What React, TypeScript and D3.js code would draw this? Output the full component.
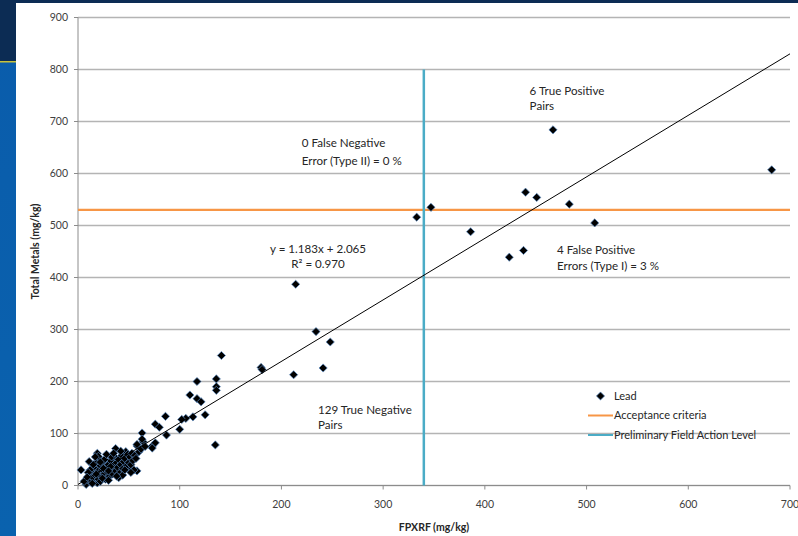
import React from 'react';
import * as d3 from 'd3';

// Lead pairs: [FPXRF, Total Metals] (mg/kg)
const leadPoints: [number, number][] = [
  // right of the field action level
  [333, 516], [347, 535], [386, 488], [424, 439], [438, 452], [440, 564],
  [451, 554], [467, 684], [483, 541], [508, 505], [682, 607],
  // mid range
  [214, 387], [234, 296], [248, 276], [141, 250], [180, 227], [181, 223],
  [212, 213], [241, 226], [117, 200], [136, 205], [136, 190], [136, 183],
  [110, 174], [117, 167], [121, 161], [125, 136], [113, 132], [106, 129],
  [102, 127], [100, 108], [86, 133], [76, 118], [80, 112], [87, 97],
  [63, 101], [135, 78], [64, 84], [58, 76], [73, 76], [76, 82], [73, 72],
  [63, 89], [58, 79],
  // low cluster
  [3, 30], [11, 46], [19, 62], [37, 71], [47, 65], [19, 5], [50, 31], [58, 28],
  [48, 49], [8, 2], [10, 10], [12, 18], [13, 8], [14, 25], [15, 14], [16, 35],
  [17, 20], [18, 44], [20, 12], [20, 28], [21, 52], [22, 8], [22, 38], [23, 18],
  [24, 30], [25, 45], [26, 22], [27, 12], [28, 34], [29, 26], [30, 40], [31, 18],
  [32, 48], [33, 30], [34, 22], [35, 38], [36, 55], [37, 28], [38, 44], [39, 35],
  [40, 50], [41, 24], [42, 40], [43, 58], [44, 32], [45, 46], [46, 52], [48, 38],
  [49, 60], [50, 44], [51, 55], [52, 40], [53, 62], [54, 48], [55, 30], [56, 58],
  [57, 52], [60, 65], [62, 70], [66, 75], [12, 30], [15, 40], [18, 22], [24, 14],
  [26, 50], [30, 10], [33, 55], [40, 15], [44, 20], [10, 25], [6, 8], [9, 16],
  [14, 4], [20, 56], [28, 60], [17, 55], [35, 62], [42, 66], [46, 30], [52, 25],
  [25, 33], [32, 36], [38, 18], [30, 28], [22, 45],
];

const trendSlope = 1.183;
const trendIntercept = 2.065;
const acceptanceCriteria = 530;
const fieldActionLevel = 340;
const fieldActionTop = 800;

const xTicks = [0, 100, 200, 300, 400, 500, 600, 700];
const yTicks = [0, 100, 200, 300, 400, 500, 600, 700, 800, 900];

// [text, x, y, anchor] in data units
const notes: [string, number, number, string][] = [
  ['0 False Negative', 220, 651, 'start'],
  ['Error (Type II) = 0 %', 220, 617, 'start'],
  ['y = 1.183x + 2.065', 236, 448, 'middle'],
  ['R² = 0.970', 236, 418, 'middle'],
  ['6 True Positive', 444, 751, 'start'],
  ['Pairs', 444, 722, 'start'],
  ['4 False Positive', 471, 445, 'start'],
  ['Errors (Type I) = 3 %', 471, 414, 'start'],
  ['129 True Negative', 236, 137, 'start'],
  ['Pairs', 236, 108, 'start'],
];

const legendItems = ['Lead', 'Acceptance criteria', 'Preliminary Field Action Level'];

const W = 798, H = 536;
const margin = { top: 17.5, right: 8, bottom: 50.5, left: 78 };
const font = 'Lato, "Open Sans", sans-serif';
const gridColor = '#b4b4b4';
const orange = '#f79646';
const blue = '#4bacc6';

const diamond = (cx: number, cy: number, r: number) =>
  `M${cx},${cy - r}L${cx + r},${cy}L${cx},${cy + r}L${cx - r},${cy}Z`;

export default function App() {
  const x = d3.scaleLinear().domain([0, 700]).range([margin.left, W - margin.right]);
  const y = d3.scaleLinear().domain([0, 900]).range([H - margin.bottom, margin.top]);
  const trend = d3.line<number>().x(d => x(d)).y(d => y(trendSlope * d + trendIntercept));

  const lx = 600.5, ly = 396;

  return (
    <svg width={W} height={H} style={{ position: 'absolute', left: 0, top: 0 }} fontFamily={font}>
      {/* slide background */}
      <defs>
        <linearGradient id="band" x1="0" y1="0" x2="0" y2="1">
          <stop offset="0" stopColor="#0a5cab" />
          <stop offset="1" stopColor="#0a62ae" />
        </linearGradient>
      </defs>
      <rect x={0} y={0} width={W} height={H} fill="url(#band)" />
      <rect x={0} y={0} width={W} height={61} fill="#0c2c54" />
      <rect x={0} y={61} width={16} height={1.5} fill="#c9c23a" />
      <rect x={16} y={3} width={W - 16} height={H - 3} fill="#ffffff" />

      {/* gridlines */}
      {yTicks.map(t => (
        <line key={t} x1={x(0)} x2={x(700)} y1={y(t)} y2={y(t)} stroke={gridColor} strokeWidth={1.4} />
      ))}
      {/* y axis */}
      <line x1={x(0)} x2={x(0)} y1={y(0)} y2={y(900)} stroke="#8c8c8c" strokeWidth={1} />
      {yTicks.map(t => (
        <g key={t}>
          <line x1={x(0) - 4} x2={x(0)} y1={y(t)} y2={y(t)} stroke="#8c8c8c" />
          <text x={x(0) - 10} y={y(t)} dy="0.35em" textAnchor="end" fontSize={10.5} fill="#404040">{t}</text>
        </g>
      ))}
      {/* x axis */}
      <line x1={x(0)} x2={x(700)} y1={y(0)} y2={y(0)} stroke="#8c8c8c" strokeWidth={1} />
      {xTicks.map(t => (
        <g key={t}>
          <line x1={x(t)} x2={x(t)} y1={y(0)} y2={y(0) + 4} stroke="#8c8c8c" />
          <text x={x(t)} y={y(0) + 19} dy="0.35em" textAnchor="middle" fontSize={10.5} fill="#404040">{t}</text>
        </g>
      ))}

      <text transform={`translate(35,${(y(0) + y(900)) / 2}) rotate(-90)`} textAnchor="middle" dy="0.35em"
        fontSize={10.5} fontWeight="bold" fill="#262626">Total Metals (mg/kg)</text>
      <text x={(x(0) + x(700)) / 2} y={527} textAnchor="middle" dy="0.35em"
        fontSize={10.5} fontWeight="bold" fill="#262626">FPXRF (mg/kg)</text>

      {/* reference lines */}
      <line x1={x(0)} x2={x(700)} y1={y(acceptanceCriteria)} y2={y(acceptanceCriteria)} stroke={orange} strokeWidth={2.2} />
      <line x1={x(fieldActionLevel)} x2={x(fieldActionLevel)} y1={y(0)} y2={y(fieldActionTop)} stroke={blue} strokeWidth={2.5} />

      {/* points */}
      {leadPoints.map(([a, b], i) => (
        <path key={i} d={diamond(x(a), y(b), 4.1)} fill="#000" stroke="#5b8cc4" strokeWidth={0.7} />
      ))}

      {/* trendline */}
      <path d={trend([0, 700]) || ''} fill="none" stroke="#000" strokeWidth={1} />

      {/* annotations */}
      {notes.map(([t, a, b, anchor], i) => (
        <text key={i} x={x(a)} y={y(b)} textAnchor={anchor as any} fontSize={11.6} fill="#262626">{t}</text>
      ))}

      {/* legend */}
      <g fontSize={11} fill="#262626">
        <path d={diamond(lx, ly, 4.1)} fill="#000" stroke="#5b8cc4" strokeWidth={0.7} />
        <line x1={588} x2={613} y1={ly + 19.5} y2={ly + 19.5} stroke={orange} strokeWidth={2} />
        <line x1={588} x2={613} y1={ly + 39} y2={ly + 39} stroke={blue} strokeWidth={2} />
        {legendItems.map((t, i) => (
          <text key={t} x={614} y={ly + i * 19.5} dy="0.35em">{t}</text>
        ))}
      </g>
    </svg>
  );
}
